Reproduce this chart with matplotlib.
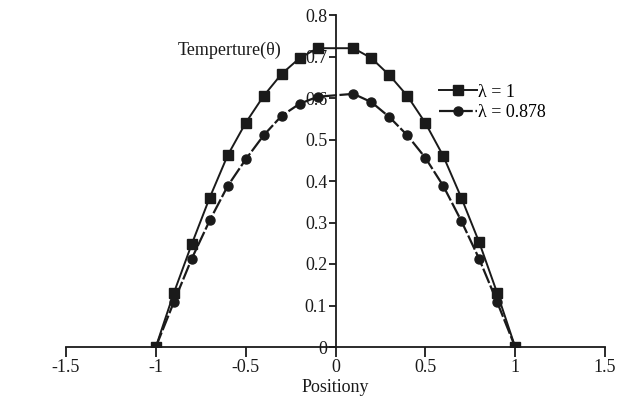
import matplotlib
matplotlib.use('Agg')
import matplotlib.pyplot as plt

# DATOS
position = [-1.0, -0.9, -0.8, -0.7, -0.6, -0.5, -0.4, -0.3, -0.2, -0.1,
            0.1, 0.2, 0.3, 0.4, 0.5, 0.6, 0.7, 0.8, 0.9, 1.0]
theta_l1 = [0.0, 0.13, 0.248, 0.36, 0.462, 0.54, 0.605, 0.658, 0.696, 0.72,
            0.72, 0.696, 0.655, 0.605, 0.54, 0.46, 0.36, 0.252, 0.13, 0.0]
theta_l0878 = [0.0, 0.108, 0.213, 0.305, 0.388, 0.452, 0.51, 0.557, 0.586, 0.603,
               0.61, 0.59, 0.554, 0.51, 0.456, 0.388, 0.304, 0.212, 0.108, 0.0]
labels = ['λ = 1', 'λ = 0.878']
xticks = [-1.5, -1, -0.5, 0, 0.5, 1, 1.5]
xtick_labels = ['-1.5', '-1', '-0.5', '0', '0.5', '1', '1.5']
yticks = [0, 0.1, 0.2, 0.3, 0.4, 0.5, 0.6, 0.7, 0.8]
ytick_labels = ['0', '0.1', '0.2', '0.3', '0.4', '0.5', '0.6', '0.7', '0.8']

plt.rcParams['font.family'] = ['Liberation Serif', 'DejaVu Serif']
plt.rcParams['axes.unicode_minus'] = False
ink = '#1a1a1a'

fig = plt.figure(figsize=(6.31, 4.0), dpi=100)
ax = fig.add_axes([66 / 631, 53 / 400, 539 / 631, 332 / 400])

ax.plot(position, theta_l1, color=ink, lw=1.4, marker='s', ms=7, label=labels[0])
ax.plot(position, theta_l0878, color=ink, lw=1.6, ls=(0, (7, 1.2)), marker='o', ms=6.5,
        label=labels[1])

ax.set_xlim(-1.5, 1.5)
ax.set_ylim(0, 0.8)
ax.spines['top'].set_visible(False)
ax.spines['right'].set_visible(False)
ax.spines['left'].set_position(('data', 0))
ax.spines['bottom'].set_position(('data', 0))
for s in ['left', 'bottom']:
    ax.spines[s].set_color(ink)
    ax.spines[s].set_linewidth(1.3)

ax.set_xticks(xticks)
ax.set_xticklabels(xtick_labels)
ax.set_yticks(yticks)
ax.set_yticklabels(ytick_labels)
ax.tick_params(axis='x', direction='out', length=7, width=1.3, colors=ink, labelsize=13, pad=2)
ax.tick_params(axis='y', direction='out', length=5, width=1.3, colors=ink, labelsize=13, pad=1)

ax.set_xlabel('Positiony', fontsize=13, color=ink, labelpad=2)
ax.text(-0.59, 0.716, 'Temperture(θ)', fontsize=13, color=ink, ha='center', va='center')

ax.legend(loc='upper left', bbox_to_anchor=(0.678, 0.815), frameon=False, fontsize=13,
          handlelength=2.1, handletextpad=0.1, labelspacing=0.2, borderaxespad=0)

fig.savefig('out.png', dpi=100)
